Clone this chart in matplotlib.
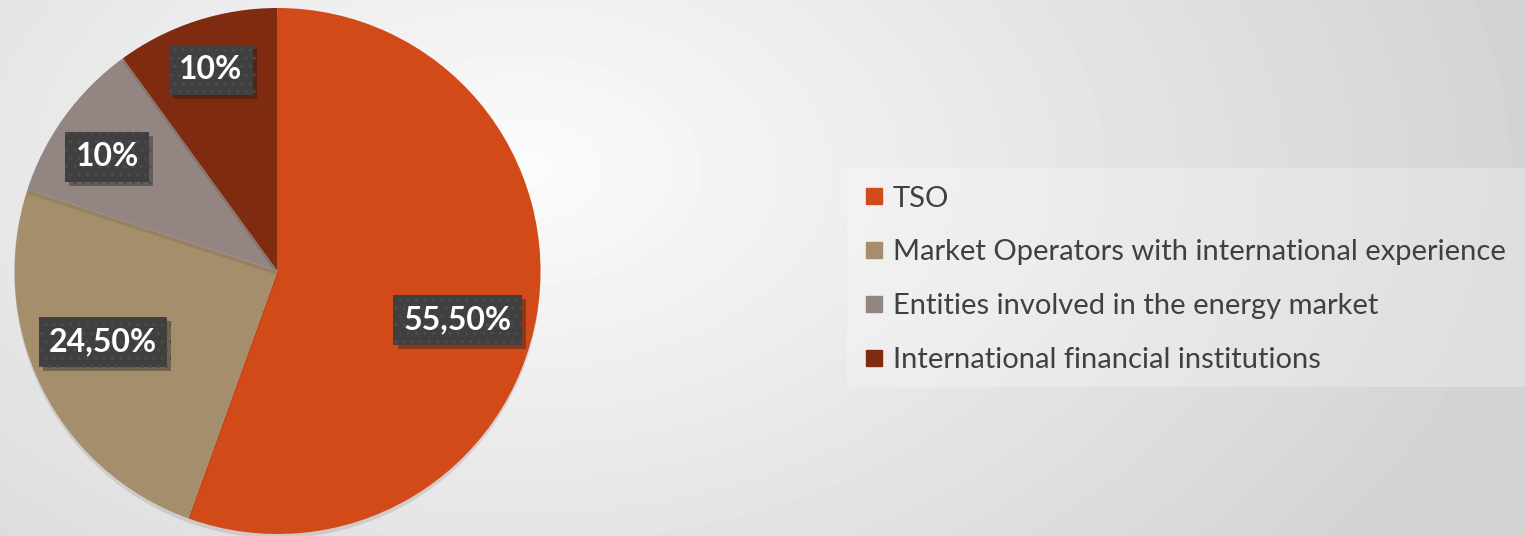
import matplotlib.pyplot as plt
import matplotlib.patheffects as pe
from matplotlib.lines import Line2D
from matplotlib.patches import Rectangle
import numpy as np

categories = ['TSO', 'Market Operators with international experience',
              'Entities involved in the energy market', 'International financial institutions']
shares = [55.5, 24.5, 10, 10]
pct_labels = ['55,50%', '24,50%', '10%', '10%']
colors = ['#D34A19', '#A58E6C', '#938581', '#7E2B10']

W, H = 1525, 536
fig = plt.figure(figsize=(W / 100, H / 100), dpi=100)

# background gradient
bg = fig.add_axes([0, 0, 1, 1], zorder=-10)
yy, xx = np.mgrid[0:H, 0:W]
d = np.sqrt(((xx - 520) / 1100.0) ** 2 + ((yy - 170) / 700.0) ** 2)
v = np.clip(0.985 - 0.17 * d, 0.83, 1.0)
bg.imshow(v, cmap='gray', vmin=0, vmax=1, aspect='auto', extent=[0, 1, 0, 1])
bg.set_axis_off()

# legend backdrop
fig.patches.append(Rectangle((847 / W, 1 - 387 / H), (W - 847) / W, 219 / H,
                             transform=fig.transFigure, facecolor='white', alpha=0.25,
                             edgecolor='none', zorder=-5))

cx, cy, r = 277.5, 271, 263
ax = fig.add_axes([(cx - r) / W, (H - cy - r) / H, 2 * r / W, 2 * r / H])
wedges, _ = ax.pie(shares, colors=colors, startangle=90, counterclock=False, radius=1,
                   wedgeprops=dict(linewidth=0))
for w in wedges:
    w.set_path_effects([pe.SimplePatchShadow(offset=(0, -3), alpha=0.12), pe.Normal()])
ax.set_xlim(-1, 1)
ax.set_ylim(-1, 1)
ax.set_aspect('equal')
ax.set_axis_off()

# percentage labels inside wedges (radial distance, angle shift from mid-angle)
label_dist = [0.71, 0.716, 0.78, 0.805]
label_shift = [-5.3, -4.0, 2.2, 0.3]
for w, lab, dist, sh in zip(wedges, pct_labels, label_dist, label_shift):
    ang = np.deg2rad((w.theta1 + w.theta2) / 2 + sh)
    t = ax.text(dist * np.cos(ang), dist * np.sin(ang), lab, ha='center', va='center',
                color='white', fontsize=23, fontweight='bold', family='Lato',
                bbox=dict(boxstyle='square,pad=0.32', facecolor='#404040',
                          edgecolor='#4c4c4c', hatch='..', linewidth=0))
    t.get_bbox_patch().set_path_effects([pe.SimplePatchShadow(offset=(3, -3), alpha=0.35),
                                         pe.Normal()])

handles = [Line2D([], [], marker='s', linestyle='', color=c, markersize=11.5) for c in colors]
leg = fig.legend(handles, categories, loc='upper left', bbox_to_anchor=(849 / W, 1 - 171 / H),
                 frameon=False, prop=dict(family='Lato', size=21), labelcolor='#404040',
                 handlelength=0.7, handletextpad=0.3, labelspacing=0.95, borderpad=0)

fig.savefig('out.png', dpi=100)
